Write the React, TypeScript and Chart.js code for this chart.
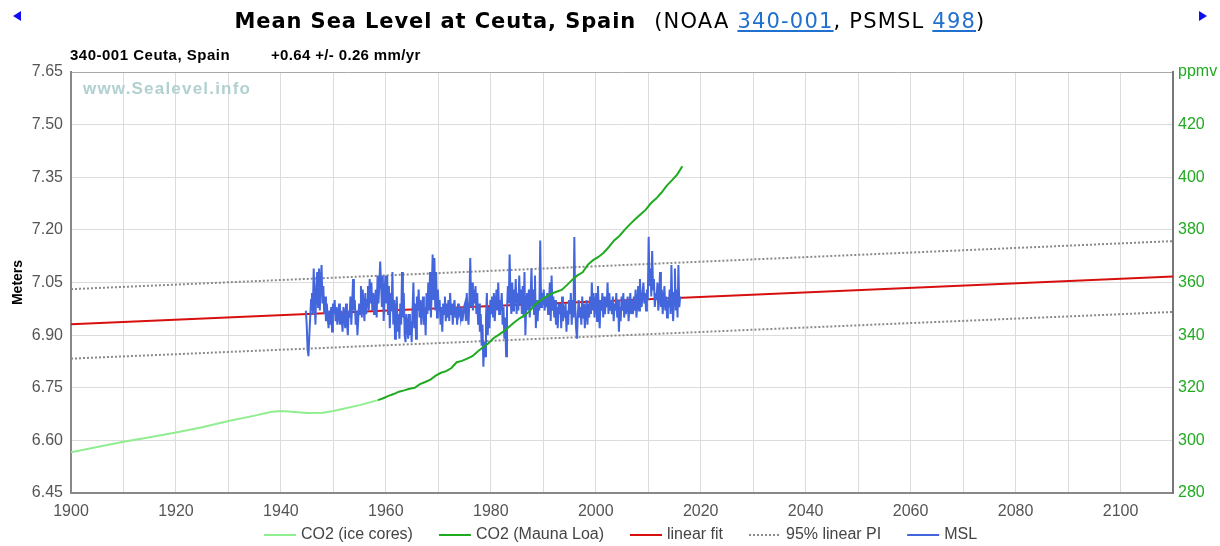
import React, { useEffect, useRef } from 'react';
import { Chart, registerables } from 'chart.js';

Chart.register(...registerables);

// ---------- data ----------
const xTicks = [1900, 1910, 1920, 1930, 1940, 1950, 1960, 1970, 1980, 1990, 2000, 2010, 2020, 2030, 2040, 2050, 2060, 2070, 2080, 2090, 2100, 2110];
const leftTicks = [6.45, 6.6, 6.75, 6.9, 7.05, 7.2, 7.35, 7.5, 7.65];
const rightTicks = [280, 300, 320, 340, 360, 380, 400, 420, 440];

const co2IceYears = [1900, 1905, 1910, 1915, 1920, 1925, 1930, 1935, 1938, 1940, 1942, 1945, 1948, 1950, 1955, 1958.5];
const co2IceValues = [295.5, 297.5, 299.5, 301.2, 303.0, 305.0, 307.4, 309.4, 310.8, 311.2, 310.9, 310.4, 310.5, 311.2, 313.4, 315.3];

const co2MloYears = [1958.5, 1959.5, 1960.5, 1961.5, 1962.5, 1963.5, 1964.5, 1965.5, 1966.5, 1967.5, 1968.5, 1969.5, 1970.5, 1971.5, 1972.5, 1973.5, 1974.5, 1975.5, 1976.5, 1977.5, 1978.5, 1979.5, 1980.5, 1981.5, 1982.5, 1983.5, 1984.5, 1985.5, 1986.5, 1987.5, 1988.5, 1989.5, 1990.5, 1991.5, 1992.5, 1993.5, 1994.5, 1995.5, 1996.5, 1997.5, 1998.5, 1999.5, 2000.5, 2001.5, 2002.5, 2003.5, 2004.5, 2005.5, 2006.5, 2007.5, 2008.5, 2009.5, 2010.5, 2011.5, 2012.5, 2013.5, 2014.5, 2015.5, 2016.5];
const co2MloValues = [315.3, 316.0, 316.9, 317.6, 318.5, 319.0, 319.6, 320.0, 321.4, 322.2, 323.1, 324.6, 325.7, 326.3, 327.5, 329.7, 330.2, 331.1, 332.0, 333.8, 335.4, 336.8, 338.8, 340.1, 341.5, 343.2, 344.9, 346.4, 347.6, 349.3, 351.7, 353.2, 354.5, 355.7, 356.5, 357.2, 359.0, 361.0, 362.7, 363.9, 366.8, 368.5, 369.7, 371.3, 373.5, 376.0, 377.7, 380.0, 382.1, 384.0, 385.8, 387.6, 390.1, 391.9, 394.1, 396.7, 398.8, 401.0, 404.2];

const fitYears = [1900, 2110];
const fitValues = [6.931, 7.067];
const piUpperValues = [7.031, 7.168];
const piLowerValues = [6.833, 6.966];

// MSL (meters), every two months starting 1944.75
const mslStart = 1944.75;
const mslStep = 1 / 6;
const mslValues = [
  6.97, 6.93,
  6.86, 6.84, 6.90, 6.95, 7.00, 7.02,
  6.96, 7.09, 7.00, 6.93, 7.04, 7.08,
  6.98, 7.09, 6.97, 7.06, 7.10, 6.99,
  7.04, 6.96, 7.01, 6.94, 6.99, 6.95,
  6.92, 6.97, 6.93, 6.98, 6.91, 6.99,
  6.96, 7.00, 6.94, 6.98, 6.93, 6.96,
  6.99, 6.93, 6.97, 6.95, 6.91, 6.98,
  6.96, 6.92, 6.99, 6.94, 6.90, 6.97,
  6.95, 7.01, 6.93, 6.99, 7.06, 6.97,
  7.00, 6.93, 6.97, 6.90, 6.95, 6.99,
  6.96, 7.04, 6.95, 7.03, 6.98, 6.94,
  7.02, 6.96, 7.00, 7.04, 6.97, 7.06,
  6.99, 7.05, 6.97, 7.02, 6.96, 7.00,
  7.03, 6.95, 7.07, 6.99, 7.04, 7.11,
  7.05, 6.98, 7.07, 6.94, 7.02, 7.07,
  6.99, 7.07, 6.96, 7.04, 6.92, 7.02,
  6.97, 7.08, 6.93, 7.00, 6.89, 6.97,
  7.01, 6.91, 6.96, 6.89, 6.99, 6.93,
  7.08, 6.95, 7.02, 6.90, 6.88, 6.96,
  6.93, 6.89, 6.96, 6.90, 6.94, 6.88,
  6.97, 7.05, 6.92, 6.99, 6.89, 7.01,
  6.97, 7.03, 6.95, 7.00, 6.93, 6.98,
  7.01, 6.93, 6.98, 6.90, 7.02, 6.96,
  7.05, 6.97, 7.08, 6.95, 7.03, 7.13,
  7.00, 7.12, 6.97, 7.08, 6.95, 7.03,
  6.97, 7.00, 6.93, 6.98, 6.91, 6.99,
  6.96, 7.01, 6.94, 6.99, 6.95, 7.00,
  6.94, 7.02, 6.96, 6.99, 6.93, 6.98,
  7.00, 6.95, 6.98, 6.93, 6.99, 6.96,
  6.97, 6.95, 6.98, 6.94, 6.96, 6.98,
  6.99, 6.94, 7.02, 6.96, 6.93, 7.00,
  7.12, 6.98, 7.05, 6.97, 7.03, 6.99,
  7.04, 6.96, 7.02, 6.93, 6.99, 6.91,
  6.96, 6.87, 6.93, 6.81, 6.88, 6.84,
  6.95, 7.02, 6.90, 6.98, 6.92, 7.00,
  6.96, 7.01, 6.95, 7.02, 6.94, 6.99,
  7.03, 6.97, 7.05, 6.96, 7.00, 6.97,
  7.02, 6.93, 6.98, 6.89, 6.95, 6.84,
  6.97, 7.04, 6.99, 7.13, 7.01, 6.96,
  7.05, 6.97, 7.03, 6.99, 7.06, 6.96,
  7.02, 6.97, 7.07, 6.99, 7.03, 6.96,
  7.04, 6.95, 7.08, 6.90, 6.99, 7.02,
  6.97, 7.03, 6.95, 7.01, 7.09, 6.98,
  7.03, 6.96, 7.07, 6.92, 7.00, 6.94,
  7.00, 6.97, 7.17, 6.98, 7.02, 6.99,
  7.03, 6.97, 7.01, 6.98, 7.02, 6.96,
  6.99, 7.05, 6.94, 7.07, 6.97, 7.01,
  6.95, 7.00, 6.93, 6.98, 6.92, 6.99,
  6.96, 6.99, 6.92, 7.01, 6.94, 6.97,
  6.95, 6.99, 6.91, 6.97, 6.93, 7.00,
  6.96, 7.02, 6.93, 7.00, 6.95, 7.18,
  6.98, 6.92, 6.89, 6.96, 7.00, 6.95,
  6.98, 6.93, 7.01, 6.95, 6.99, 6.92,
  6.97, 7.00, 6.93, 6.99, 6.95, 7.01,
  6.96, 7.05, 6.97, 7.02, 6.95, 6.99,
  7.02, 6.94, 7.04, 6.97, 6.92, 7.00,
  6.97, 7.02, 6.95, 7.01, 6.96, 7.00,
  6.98, 7.05, 6.96, 7.02, 6.97, 7.00,
  6.96, 7.01, 6.94, 6.99, 6.97, 7.02,
  6.95, 7.00, 6.91, 6.98, 6.94, 7.01,
  6.97, 7.02, 6.95, 7.00, 6.96, 6.99,
  7.01, 6.94, 6.98, 7.02, 6.96, 7.00,
  6.96, 7.01, 6.97, 7.03, 6.95, 6.99,
  7.04, 6.97, 7.06, 7.00, 6.98, 7.02,
  7.05, 6.99, 7.02, 6.97, 7.03, 7.00,
  7.18, 7.04, 7.09, 7.01, 7.14, 7.03,
  7.06, 6.98, 7.02, 7.00, 7.05, 6.97,
  7.01, 7.08, 6.98, 7.03, 6.96, 7.00,
  7.04, 6.97, 7.01, 6.95, 7.00, 6.98,
  7.03, 6.96, 7.10, 6.99, 6.94, 7.02,
  7.09, 6.97, 7.03, 6.95, 7.10, 6.98,
  7.01,
];

// ---------- styling ----------
const FONT = 'Arial, "Liberation Sans", sans-serif';
const TITLE_FONT = '"DejaVu Sans", Verdana, sans-serif';
const GREEN_AXIS = '#22aa22';

const pts = (xs: number[], ys: number[]) => xs.map((x, i) => ({ x, y: ys[i] }));

// legend drawn below the x axis labels (lines + text from the datasets)
const bottomLegend = {
  id: 'bottomLegend',
  afterDraw(chart: any) {
    const ctx = chart.ctx as CanvasRenderingContext2D;
    const area = chart.chartArea;
    const items = chart.data.datasets.filter((d: any) => d.label);
    const boxW = 32;
    const gap = 5;
    const spacing = 26;
    ctx.save();
    ctx.font = '16px ' + FONT;
    const widths = items.map((d: any) => boxW + gap + ctx.measureText(d.label).width);
    const total = widths.reduce((a: number, b: number) => a + b, 0) + spacing * (items.length - 1);
    let x = (area.left + area.right) / 2 - 1.5 - total / 2;
    const y = area.bottom + 42;
    items.forEach((d: any, i: number) => {
      ctx.beginPath();
      ctx.setLineDash(d.borderDash || []);
      ctx.lineWidth = d.borderWidth;
      ctx.strokeStyle = d.borderColor;
      ctx.moveTo(x, y);
      ctx.lineTo(x + boxW, y);
      ctx.stroke();
      ctx.setLineDash([]);
      ctx.fillStyle = '#444';
      ctx.textBaseline = 'middle';
      ctx.textAlign = 'left';
      ctx.fillText(d.label, x + boxW + gap, y);
      x += widths[i] + spacing;
    });
    ctx.restore();
  },
};

export default function App() {
  const ref = useRef<HTMLCanvasElement>(null);

  useEffect(() => {
    const canvas = ref.current;
    if (!canvas) return;
    Chart.defaults.font.family = FONT;

    const mslPoints = mslValues.map((v, i) => ({ x: mslStart + i * mslStep, y: v }));

    const chart = new Chart(canvas, {
      type: 'line',
      data: {
        datasets: [
          {
            label: 'CO2 (ice cores)',
            data: pts(co2IceYears, co2IceValues),
            yAxisID: 'y2',
            borderColor: '#90ee90',
            backgroundColor: '#90ee90',
            borderWidth: 2,
            order: 0,
          },
          {
            label: 'CO2 (Mauna Loa)',
            data: pts(co2MloYears, co2MloValues),
            yAxisID: 'y2',
            borderColor: '#1fab1f',
            backgroundColor: '#1fab1f',
            borderWidth: 2,
            order: 0,
          },
          {
            label: 'linear fit',
            data: pts(fitYears, fitValues),
            yAxisID: 'y',
            borderColor: '#d80f0f',
            backgroundColor: '#d80f0f',
            borderWidth: 2,
            order: 2,
          },
          {
            label: '95% linear PI',
            data: pts(fitYears, piUpperValues),
            yAxisID: 'y',
            borderColor: '#8a8a8a',
            backgroundColor: '#8a8a8a',
            borderWidth: 2,
            borderDash: [2, 2],
            order: 3,
          },
          {
            label: '',
            data: pts(fitYears, piLowerValues),
            yAxisID: 'y',
            borderColor: '#8a8a8a',
            backgroundColor: '#8a8a8a',
            borderWidth: 2,
            borderDash: [2, 2],
            order: 3,
          },
          {
            label: 'MSL',
            data: mslPoints,
            yAxisID: 'y',
            borderColor: '#4466dd',
            backgroundColor: '#4466dd',
            borderWidth: 2,
            order: 1,
          },
        ],
      },
      options: {
        responsive: false,
        animation: false,
        events: [],
        layout: { padding: { top: 72, left: 0, right: 0, bottom: 23 } },
        elements: {
          point: { radius: 0, hitRadius: 0, hoverRadius: 0 },
          line: { tension: 0 },
        },
        plugins: {
          tooltip: { enabled: false },
          title: { display: false },
          legend: { display: false },
        },
        scales: {
          x: {
            type: 'linear',
            min: 1900,
            max: 2110,
            afterBuildTicks: (s: any) => {
              s.ticks = xTicks.map((v) => ({ value: v }));
            },
            afterFit: (s: any) => {
              s.height = 30;
            },
            ticks: {
              autoSkip: false,
              maxRotation: 0,
              padding: 9,
              color: '#555',
              font: { size: 16, family: FONT },
              callback: (v: any) => (Number(v) % 20 === 0 && Number(v) <= 2100 ? String(v) : ''),
            },
            grid: { color: '#dcdcdc', lineWidth: 1, drawTicks: false },
            border: { display: true, color: '#888', width: 2 },
          },
          y: {
            type: 'linear',
            position: 'left',
            min: 6.45,
            max: 7.65,
            afterBuildTicks: (s: any) => {
              s.ticks = leftTicks.map((v) => ({ value: v }));
            },
            afterFit: (s: any) => {
              s.width = 71;
            },
            ticks: {
              padding: 8,
              color: '#555',
              font: { size: 16, family: FONT },
              callback: (v: any) => Number(v).toFixed(2),
            },
            title: {
              display: true,
              text: 'Meters',
              color: '#000',
              font: { size: 14, weight: 'bold', family: FONT },
              padding: { top: 10, bottom: 0 },
            },
            grid: {
              color: (ctx: any) => (ctx.tick && ctx.tick.value === 7.65 ? '#aaaaaa' : '#dcdcdc'),
              lineWidth: 1,
              drawTicks: false,
            },
            border: { display: true, color: '#888', width: 2 },
          },
          y2: {
            type: 'linear',
            position: 'right',
            min: 280,
            max: 440,
            afterBuildTicks: (s: any) => {
              s.ticks = rightTicks.map((v) => ({ value: v }));
            },
            afterFit: (s: any) => {
              s.width = 47;
            },
            ticks: {
              padding: 5,
              color: GREEN_AXIS,
              font: { size: 16, family: FONT },
              callback: (v: any) => (Number(v) === 440 ? 'ppmv' : String(v)),
            },
            grid: { drawOnChartArea: false, drawTicks: false },
            border: { display: true, color: '#777', width: 2 },
          },
        },
      },
      plugins: [bottomLegend],
    } as any);

    return () => chart.destroy();
  }, []);

  const link: React.CSSProperties = { color: '#2070d0', textDecoration: 'underline' };

  return (
    <div
      style={{
        position: 'absolute',
        left: 0,
        top: 0,
        width: 1220,
        height: 546,
        overflow: 'hidden',
        background: '#fff',
      }}
    >
      <canvas
        ref={ref}
        width={1220}
        height={546}
        style={{ position: 'absolute', left: 0, top: 0, width: 1220, height: 546 }}
      />
      {/* navigation arrows */}
      <div
        style={{
          position: 'absolute',
          left: 13,
          top: 11,
          width: 0,
          height: 0,
          borderTop: '5px solid transparent',
          borderBottom: '5px solid transparent',
          borderRight: '8px solid #1010ee',
        }}
      />
      <div
        style={{
          position: 'absolute',
          left: 1199,
          top: 11,
          width: 0,
          height: 0,
          borderTop: '5px solid transparent',
          borderBottom: '5px solid transparent',
          borderLeft: '8px solid #1010ee',
        }}
      />
      {/* title */}
      <div
        style={{
          position: 'absolute',
          left: 0,
          top: 9,
          width: 1220,
          textAlign: 'center',
          fontFamily: TITLE_FONT,
          fontSize: 21,
          lineHeight: '24px',
          color: '#000',
          whiteSpace: 'nowrap',
        }}
      >
        <span style={{ fontWeight: 'bold', letterSpacing: '0.9px' }}>Mean Sea Level at Ceuta, Spain</span>
        <span style={{ marginLeft: 18, letterSpacing: '1.2px' }}>
          (NOAA <a href="#" style={link}>340-001</a>, PSMSL <a href="#" style={link}>498</a>)
        </span>
      </div>
      {/* subtitle */}
      <div
        style={{
          position: 'absolute',
          left: 70,
          top: 46,
          fontFamily: FONT,
          fontWeight: 'bold',
          fontSize: 15,
          lineHeight: '17px',
          letterSpacing: '0.5px',
          color: '#000',
          whiteSpace: 'nowrap',
        }}
      >
        340-001 Ceuta, Spain
      </div>
      <div
        style={{
          position: 'absolute',
          left: 271,
          top: 46,
          fontFamily: FONT,
          fontWeight: 'bold',
          fontSize: 15,
          lineHeight: '17px',
          letterSpacing: '0.35px',
          color: '#000',
          whiteSpace: 'nowrap',
        }}
      >
        +0.64 +/- 0.26 mm/yr
      </div>
      {/* watermark */}
      <div
        style={{
          position: 'absolute',
          left: 83,
          top: 79,
          fontFamily: FONT,
          fontWeight: 'bold',
          fontSize: 17,
          lineHeight: '20px',
          letterSpacing: '1.2px',
          color: '#b2d0d0',
          whiteSpace: 'nowrap',
        }}
      >
        www.Sealevel.info
      </div>
    </div>
  );
}
